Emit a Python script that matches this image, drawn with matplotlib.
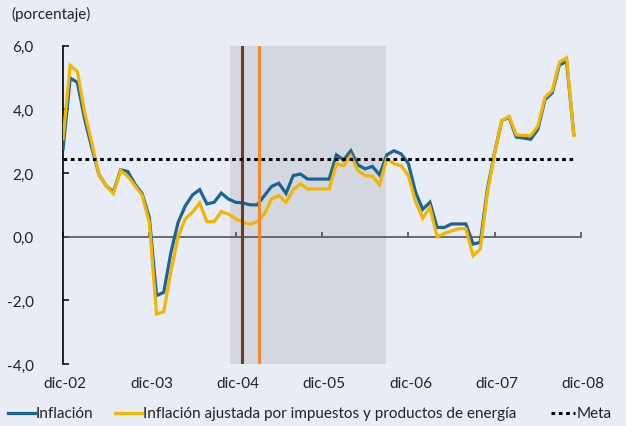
import matplotlib
matplotlib.use("Agg")
import matplotlib.pyplot as plt
from matplotlib.lines import Line2D

plt.rcParams['font.family'] = ['Lato', 'DejaVu Sans']

# ---- data (monthly, dic-02 .. nov-08) ----
months = list(range(72))
inflacion = [2.75, 4.98, 4.85, 3.70, 2.80, 1.95, 1.60, 1.40, 2.10, 2.05, 1.65, 1.35,
             0.60, -1.85, -1.75, -0.50, 0.45, 0.97, 1.31, 1.48, 1.03, 1.08, 1.37, 1.18,
             1.08, 1.06, 1.00, 1.00, 1.29, 1.58, 1.68, 1.36, 1.92, 1.97, 1.81, 1.81,
             1.81, 1.81, 2.57, 2.41, 2.70, 2.25, 2.13, 2.21, 1.94, 2.57, 2.70, 2.60,
             2.30, 1.40, 0.86, 1.08, 0.29, 0.29, 0.40, 0.40, 0.40, -0.23, -0.18, 1.50,
             2.65, 3.65, 3.75, 3.13, 3.10, 3.06, 3.37, 4.31, 4.52, 5.40, 5.50, 3.20]
inflacion_aj = [3.07, 5.38, 5.19, 3.91, 2.95, 1.95, 1.60, 1.35, 2.08, 1.90, 1.60, 1.30,
                0.45, -2.43, -2.36, -1.10, 0.00, 0.56, 0.77, 1.06, 0.47, 0.47, 0.79, 0.71,
                0.56, 0.45, 0.39, 0.47, 0.71, 1.19, 1.29, 1.08, 1.48, 1.66, 1.50, 1.50,
                1.50, 1.50, 2.29, 2.23, 2.55, 2.08, 1.92, 1.90, 1.63, 2.45, 2.29, 2.23,
                1.92, 1.10, 0.58, 0.92, 0.00, 0.10, 0.18, 0.25, 0.25, -0.60, -0.39, 1.40,
                2.62, 3.65, 3.78, 3.20, 3.18, 3.18, 3.47, 4.38, 4.59, 5.48, 5.62, 3.18]
meta = 2.45
shade_start, shade_end = 23.2, 44.9
vline_brown, vline_orange = 24.85, 27.25

year_ticks = [0, 12, 24, 36, 48, 60, 72]
year_labels = ['dic-02', 'dic-03', 'dic-04', 'dic-05', 'dic-06', 'dic-07', 'dic-08']
y_ticks = [-4, -2, 0, 2, 4, 6]
y_labels = ['-4,0', '-2,0', '0,0', '2,0', '4,0', '6,0']

# ---- style ----
bg = '#e8ecf5'
shade_c = '#d3d8e0'
blue = '#1b6494'
yellow = '#f2b500'
brown = '#6e3b22'
orange = '#f08a2a'
txt = '#222222'
fs = 11

W, H = 626, 427
fig = plt.figure(figsize=(W / 100, H / 100), dpi=100, facecolor=bg)
ax = fig.add_axes([63 / W, 1 - 365 / H, (581 - 63) / W, (365 - 46.7) / H])
ax.set_facecolor(bg)

ax.axvspan(shade_start, shade_end, color=shade_c, zorder=0, lw=0)
ax.plot(months, inflacion, color=blue, lw=2.3, zorder=3, solid_joinstyle='miter')
ax.plot(months, inflacion_aj, color=yellow, lw=2.3, zorder=4, solid_joinstyle='miter')
ax.axvline(vline_brown, color=brown, lw=2.2, zorder=5)
ax.axvline(vline_orange, color=orange, lw=2.2, zorder=5)
ax.hlines(meta, months[0], months[-1], colors='black', lw=2.2,
          linestyles=(0, (1.2, 1.2)), zorder=6)

ax.set_xlim(0, 72)
ax.set_ylim(-4, 6)

for s in ['top', 'right']:
    ax.spines[s].set_visible(False)
ax.spines['left'].set_color('black')
ax.spines['left'].set_linewidth(1.2)
ax.spines['bottom'].set_position(('data', 0))
ax.spines['bottom'].set_color('#555555')
ax.spines['bottom'].set_linewidth(1.2)
ax.spines['bottom'].set_zorder(2)

ax.set_yticks(y_ticks)
ax.set_yticklabels(y_labels, fontsize=fs, color=txt)
ax.tick_params(axis='y', direction='in', length=4, width=1.1, pad=21)
ax.set_xticks(year_ticks)
ax.tick_params(axis='x', direction='in', length=3.5, width=1.1, color='#444444',
               labelbottom=False)
for m, lab in zip(year_ticks, year_labels):
    ax.text(m + 0.3, -0.06, lab, transform=ax.get_xaxis_transform(),
            ha='center', va='center', fontsize=fs, color=txt)

fig.text(11 / W, 1 - 14 / H, '(porcentaje)', ha='left', va='center',
         fontsize=fs, color=txt)

# legend (manual)
ly = 1 - 414 / H
def leg_line(x0, x1, **kw):
    fig.add_artist(Line2D([x0 / W, x1 / W], [ly, ly], transform=fig.transFigure, **kw))
leg_line(8, 35, color=blue, lw=2.3)
fig.text(36 / W, ly, 'Inflación', ha='left', va='center', fontsize=fs, color=txt)
leg_line(115, 142, color=yellow, lw=2.3)
fig.text(143 / W, ly, 'Inflación ajustada por impuestos y productos de energía',
         ha='left', va='center', fontsize=fs, color=txt)
leg_line(551, 575, color='black', lw=2.2, linestyle=(0, (1.2, 1.2)))
fig.text(577 / W, ly, 'Meta', ha='left', va='center', fontsize=fs, color=txt)

fig.savefig('out.png', dpi=100, facecolor=bg)
